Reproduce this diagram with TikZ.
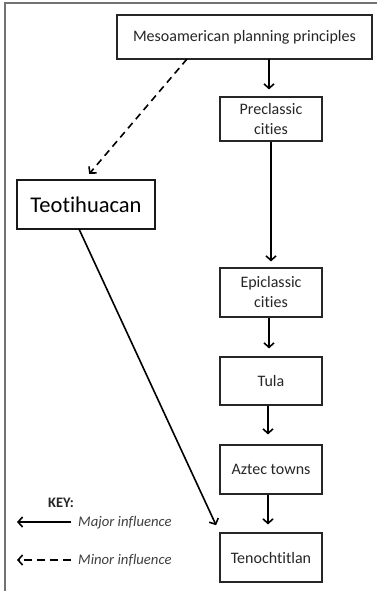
\documentclass[tikz,border=0pt]{standalone}
\usepackage{fontspec}
\setmainfont{Carlito}[Ligatures=NoCommon]
\usepackage{tikz}
\usetikzlibrary{arrows.meta, positioning}

\tikzset{
    box/.style={draw=black!85, line width=1.1pt, fill=white, align=center,
        font=\fontsize{16}{20}\selectfont, text=black!85, inner sep=2pt},
    bigbox/.style={draw=black!90, line width=2.2pt, fill=white,
        font=\fontsize{22.5}{26}\selectfont},
    major/.style={line width=1.6pt, -{Straight Barb[length=4.5pt,width=10pt]}},
    minor/.style={major, dash pattern=on 7pt off 5pt},
    keytext/.style={font=\fontsize{14.7}{17}\selectfont\itshape, text=black!75, anchor=west, inner sep=0pt}
}

\begin{document}
\begin{tikzpicture}[x=1pt, y=-1pt]
                \useasboundingbox (0,0) rectangle (377,591);
                \draw[black!55, line width=1.6pt] (377,3) -- (5,3) -- (5,591);

                \node[box, minimum width=255pt, minimum height=44pt] (meso) at (244.5,37) {Mesoamerican planning principles};
                \node[box, minimum width=102pt, minimum height=44pt] (pre) at (271,119) {Preclassic\\cities};
                \node[box, minimum width=102pt, minimum height=49pt] (epi) at (271,292.5) {Epiclassic\\cities};
                \node[box, minimum width=102pt, minimum height=48pt] (tula) at (271,381) {Tula};
                \node[box, minimum width=102pt, minimum height=49pt] (aztec) at (271,469.5) {Aztec towns};
                \node[box, minimum width=102pt, minimum height=49pt] (teno) at (271,557.5) {Tenochtitlan};
                \node[bigbox, minimum width=138pt, minimum height=49pt] (teo) at (86,204.5) {Teotihuacan};

                \coordinate (mesoA) at (269,59);
                \coordinate (mesoB) at (187,59);
                \coordinate (teoA) at (79,229);
                \draw[major, shorten >=7pt] (mesoA) -- (mesoA |- pre.north);
                \draw[major, shorten >=6pt] (pre) -- (epi.north);
                \draw[major, shorten >=8pt] (epi.south -| 269,0) -- (tula.north -| 269,0);
                \draw[major, shorten >=10pt] (tula.south -| 268,0) -- (aztec.north -| 268,0);
                \draw[major, shorten >=8pt] (aztec.south -| 268,0) -- (teno.north -| 268,0);
                \draw[minor, shorten >=8pt] (mesoB) -- (84,180);
                \draw[major, shorten >=8pt] (teoA) -- (teno.north west);

                % key
                \node[font=\fontsize{14.5}{17}\selectfont\bfseries, text=black!85] (key) at (61,503) {KEY:};
                \coordinate (k1a) at (71,522);
                \coordinate (k1b) at (17,522);
                \coordinate (k2a) at (71,560);
                \coordinate (k2b) at (17,560);
                \draw[major] (k1a) -- (k1b);
                \draw[minor, dash pattern=on 8pt off 5pt] (k2a) -- (k2b);
                \node[keytext] (majortxt) at (78,523) {Major influence};
                \node[keytext] (minortxt) at (78,560) {Minor influence};
            \end{tikzpicture}
\end{document}
